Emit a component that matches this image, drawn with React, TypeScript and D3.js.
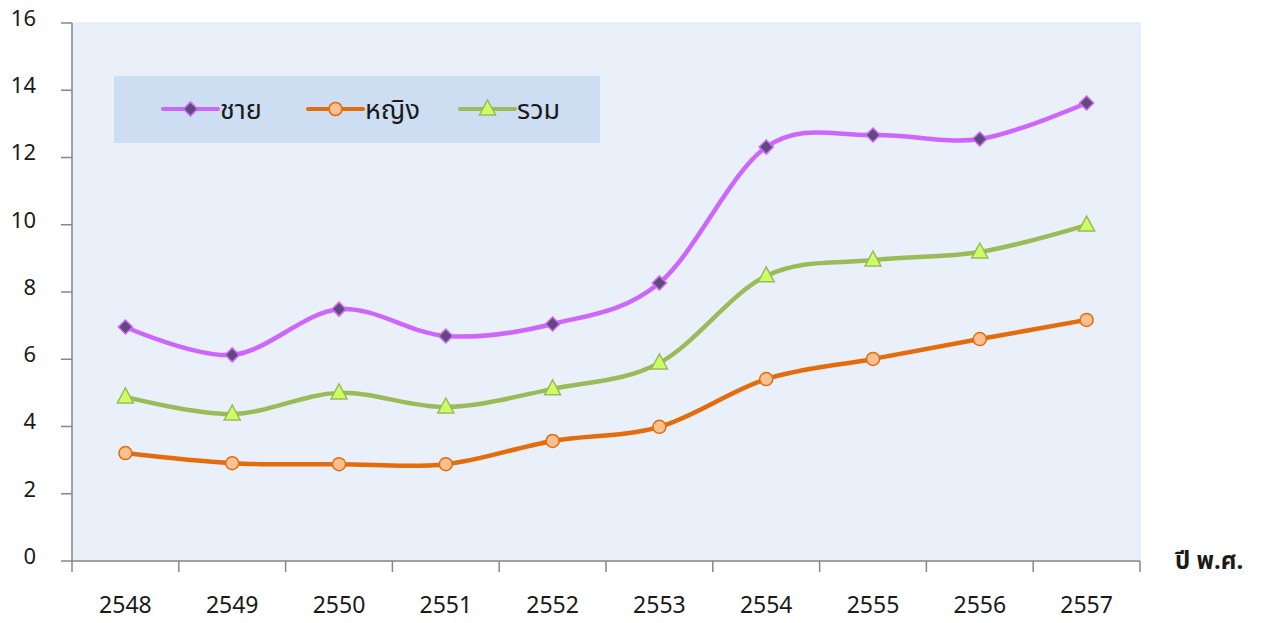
import React from "react";
import * as d3 from "d3";

const years = ["2548", "2549", "2550", "2551", "2552", "2553", "2554", "2555", "2556", "2557"];
const male = [6.96, 6.13, 7.49, 6.69, 7.05, 8.27, 12.31, 12.67, 12.55, 13.62];
const female = [3.21, 2.91, 2.88, 2.88, 3.57, 3.99, 5.41, 6.01, 6.6, 7.17];
const total = [4.88, 4.37, 5.0, 4.58, 5.12, 5.89, 8.48, 8.95, 9.19, 9.99];
const yTicks = [0, 2, 4, 6, 8, 10, 12, 14, 16];
const seriesNames = ["ชาย", "หญิง", "รวม"];
const xTitle = "ปี พ.ศ.";

const W = 1262, H = 623;
const L = 72, R = 1140, T = 23, B = 561;
const FONT = "'Noto Sans', 'Noto Sans Thai', Tahoma, sans-serif";

type S = { name: string; data: number[]; line: string; fill: string; shape: "diamond" | "circle" | "triangle" };
const series: S[] = [
  { name: seriesNames[0], data: male, line: "#CC66FF", fill: "#604A7B", shape: "diamond" },
  { name: seriesNames[1], data: female, line: "#E46C0A", fill: "#FAC090", shape: "circle" },
  { name: seriesNames[2], data: total, line: "#9BBB59", fill: "#CCFF66", shape: "triangle" },
];

function Marker({ s, x, y }: { s: S; x: number; y: number }) {
  if (s.shape === "diamond") {
    const r = 7;
    return <path d={`M${x},${y - r}L${x + r},${y}L${x},${y + r}L${x - r},${y}Z`} fill={s.fill} stroke={s.line} strokeWidth={1.5} />;
  }
  if (s.shape === "circle") {
    return <circle cx={x} cy={y} r={6.5} fill={s.fill} stroke={s.line} strokeWidth={1.5} />;
  }
  const h = 15, w = 16;
  return <path d={`M${x},${y - h * 0.6}L${x + w / 2},${y + h * 0.4}L${x - w / 2},${y + h * 0.4}Z`} fill={s.fill} stroke={s.line} strokeWidth={1.5} />;
}

export default function App() {
  const x = d3.scaleBand<string>().domain(years).range([L, R]);
  const y = d3.scaleLinear().domain([0, 16]).range([B, T]);
  const cx = (d: string) => (x(d) as number) + x.bandwidth() / 2;
  const line = d3.line<number>().x((_, i) => cx(years[i])).y((v) => y(v)).curve(d3.curveCardinal.tension(0));
  const bounds = years.map((d) => x(d) as number).concat([R]);

  const legendItems = [
    { s: series[0], x0: 163 },
    { s: series[1], x0: 308 },
    { s: series[2], x0: 460 },
  ];

  return (
    <svg width={W} height={H} style={{ position: "absolute", left: 0, top: 0, fontFamily: FONT }}>
      <rect x={0} y={0} width={W} height={H} fill="#ffffff" />
      <rect x={L} y={T} width={R - L} height={B - T} fill="#E9F0FA" stroke="#DCE6F2" strokeWidth={1} />
      {/* axes */}
      <line x1={L} x2={L} y1={T} y2={B} stroke="#878787" strokeWidth={1.5} />
      <line x1={L} x2={R} y1={B} y2={B} stroke="#878787" strokeWidth={1.5} />
      {yTicks.map((t) => (
        <g key={t}>
          <line x1={L - 11} x2={L} y1={y(t)} y2={y(t)} stroke="#878787" strokeWidth={1.5} />
          <text x={36} y={y(t) - 3} textAnchor="end" dominantBaseline="middle" fontSize={22} fill="#1a1a1a">{t}</text>
        </g>
      ))}
      {bounds.map((b, i) => (
        <line key={i} x1={b} x2={b} y1={B} y2={B + 11} stroke="#878787" strokeWidth={1.5} />
      ))}
      {years.map((d) => (
        <text key={d} x={cx(d)} y={607} textAnchor="middle" dominantBaseline="middle" fontSize={23} fill="#1a1a1a">{d}</text>
      ))}
      <text x={1175} y={562} dominantBaseline="middle" fontSize={24} fontWeight="bold" fill="#1a1a1a">{xTitle}</text>
      {/* legend */}
      <rect x={114} y={76} width={486} height={67} fill="#CDDDF2" />
      {legendItems.map(({ s, x0 }) => (
        <g key={s.name}>
          <line x1={x0} x2={x0 + 55} y1={109} y2={109} stroke={s.line} strokeWidth={4} strokeLinecap="round" />
          <Marker s={s} x={x0 + 27.5} y={109} />
          <text x={x0 + 57} y={112} dominantBaseline="middle" fontSize={27} fill="#1a1a1a">{s.name}</text>
        </g>
      ))}
      {/* series */}
      {series.map((s) => (
        <g key={s.name}>
          <path d={line(s.data) || ""} fill="none" stroke={s.line} strokeWidth={4.5} strokeLinecap="round" />
          {s.data.map((v, i) => (
            <Marker key={i} s={s} x={cx(years[i])} y={y(v)} />
          ))}
        </g>
      ))}
    </svg>
  );
}
